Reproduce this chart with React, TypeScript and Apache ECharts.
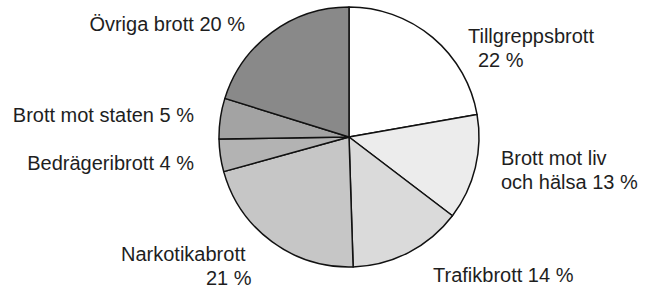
import React, { useEffect, useRef } from "react";
import * as echarts from "echarts";

const categories = [
  "Tillgreppsbrott",
  "Brott mot liv och hälsa",
  "Trafikbrott",
  "Narkotikabrott",
  "Bedrägeribrott",
  "Brott mot staten",
  "Övriga brott",
];
const values = [22, 13, 14, 21, 4, 5, 20];
const colors = ["#ffffff", "#ececec", "#dadada", "#c6c6c6", "#b3b3b3", "#a3a3a3", "#898989"];

// label placement per slice: [x, y, align, verticalAlign]
const labelPlace: [number, number, string, string][] = [
  [468, 48, "left", "middle"],
  [501, 170, "left", "middle"],
  [433, 275, "left", "middle"],
  [121, 266, "left", "middle"],
  [194, 163, "right", "middle"],
  [194, 115, "right", "middle"],
  [245, 24, "right", "middle"],
];

function labelText(i: number): string {
  const v = values[i] + " %";
  switch (i) {
    case 0:
      return "{t|" + categories[0] + "}\n{i1|" + v + "}";
    case 1:
      return "{t|Brott mot liv}\n{t|och hälsa " + v + "}";
    case 3:
      return "{t|" + categories[3] + "}\n{i3|" + v + "}";
    default:
      return "{t|" + categories[i] + " " + v + "}";
  }
}

export default function App() {
  const ref = useRef<HTMLDivElement>(null);
  useEffect(() => {
    if (!ref.current) return;
    const chart = echarts.init(ref.current, null, { renderer: "svg" });
    const font = "'Liberation Sans', Arial, Helvetica, sans-serif";
    const baseText = { fontSize: 20, fontFamily: font, color: "#1e1e1e", lineHeight: 24 };
    chart.setOption({
      animation: false,
      backgroundColor: "#ffffff",
      series: [
        {
          type: "pie",
          center: [349, 137],
          radius: 130,
          startAngle: 90,
          clockwise: true,
          silent: true,
          avoidLabelOverlap: false,
          itemStyle: { borderColor: "#111111", borderWidth: 1.5 },
          label: {
            show: true,
            ...baseText,
            formatter: (p: any) => labelText(p.dataIndex),
            rich: {
              t: { ...baseText },
              i1: { ...baseText, padding: [0, 0, 0, 10] },
              i3: { ...baseText, padding: [0, 0, 0, 85] },
            },
          },
          labelLine: { show: false },
          labelLayout: (params: any) => {
            const p = labelPlace[params.dataIndex];
            return { x: p[0], y: p[1], align: p[2], verticalAlign: p[3] };
          },
          data: categories.map((c, i) => ({
            name: c,
            value: values[i],
            itemStyle: { color: colors[i] },
          })),
        },
      ],
    });
    return () => chart.dispose();
  }, []);
  return (
    <div
      ref={ref}
      style={{ position: "fixed", left: 0, top: 0, width: 654, height: 288, background: "#fff" }}
    />
  );
}
